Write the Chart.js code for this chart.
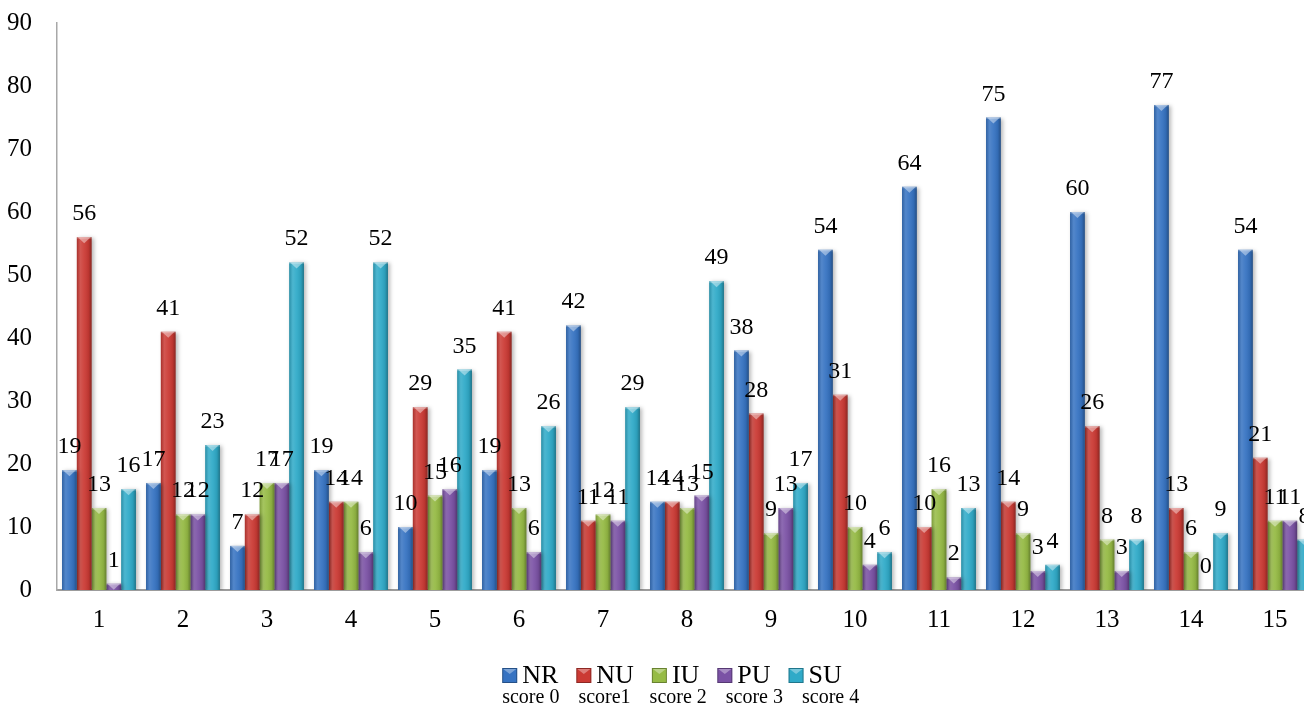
<!DOCTYPE html>
<html>
<head>
<meta charset="utf-8">
<script src="https://cdn.jsdelivr.net/npm/chart.js@4/dist/chart.umd.min.js"></script>
<style>
  html, body { margin: 0; padding: 0; background: #ffffff; overflow: hidden; }
  #wrap { width: 1320px; height: 707px; position: relative; }
</style>
</head>
<body>
<div id="wrap"><canvas id="chart"></canvas></div>
<script>
// Item numbers along the x axis
const categories = ['1','2','3','4','5','6','7','8','9','10','11','12','13','14','15'];

// Counts per response type
const nrValues = [19, 17, 7, 19, 10, 19, 42, 14, 38, 54, 64, 75, 60, 77, 54];
const nuValues = [56, 41, 12, 14, 29, 41, 11, 14, 28, 31, 10, 14, 26, 13, 21];
const iuValues = [13, 12, 17, 14, 15, 13, 12, 13, 9, 10, 16, 9, 8, 6, 11];
const puValues = [1, 12, 17, 6, 16, 6, 11, 15, 13, 4, 2, 3, 3, 0, 11];
const suValues = [16, 23, 52, 52, 35, 26, 29, 49, 17, 6, 13, 4, 8, 9, 8];

// Legend text: short code and score line
const seriesCodes = ['NR', 'NU', 'IU', 'PU', 'SU'];
const scoreLabels = ['score 0', 'score1', 'score 2', 'score 3', 'score 4'];

const seriesColors = ['#3673c2', '#cb3a34', '#96bb45', '#7b52a5', '#2faac8'];
const seriesValues = [nrValues, nuValues, iuValues, puValues, suValues];

const SERIF = "'Liberation Serif', 'DejaVu Serif', serif";

// Soft drop shadow under the bars
const barShadow = {
  id: 'barShadow',
  beforeDatasetsDraw(chart) {
    const ctx = chart.ctx;
    ctx.save();
    ctx.shadowColor = 'rgba(0,0,0,0.28)';
    ctx.shadowBlur = 4;
    ctx.shadowOffsetX = 2;
    ctx.shadowOffsetY = 1;
  },
  afterDatasetsDraw(chart) {
    chart.ctx.restore();
  }
};

// Bevel shading and the pointed top highlight on every bar
const barBevel = {
  id: 'barBevel',
  afterDatasetsDraw(chart) {
    const ctx = chart.ctx;
    chart.data.datasets.forEach((ds, di) => {
      const meta = chart.getDatasetMeta(di);
      meta.data.forEach(bar => {
        const l = bar.x - bar.width / 2;
        const r = bar.x + bar.width / 2;
        const top = Math.min(bar.y, bar.base);
        const h = Math.abs(bar.base - bar.y);
        if (h < 0.5) return;
        ctx.save();
        const g = ctx.createLinearGradient(l, 0, r, 0);
        g.addColorStop(0, 'rgba(0,0,0,0.18)');
        g.addColorStop(0.25, 'rgba(255,255,255,0.14)');
        g.addColorStop(0.5, 'rgba(255,255,255,0.06)');
        g.addColorStop(0.8, 'rgba(0,0,0,0.08)');
        g.addColorStop(1, 'rgba(0,0,0,0.32)');
        ctx.fillStyle = g;
        ctx.fillRect(l, top, r - l, h);
        // lighter cap and downward triangle
        const tri = Math.min(6, h);
        ctx.fillStyle = 'rgba(255,255,255,0.22)';
        ctx.fillRect(l, top, r - l, Math.min(1.5, h));
        ctx.beginPath();
        ctx.moveTo(l + 1, top);
        ctx.lineTo(r - 1, top);
        ctx.lineTo(bar.x, top + tri);
        ctx.closePath();
        ctx.fillStyle = 'rgba(255,255,255,0.42)';
        ctx.fill();
        ctx.restore();
      });
    });
  }
};

// Value labels above each bar
const valueLabels = {
  id: 'valueLabels',
  afterDraw(chart) {
    const ctx = chart.ctx;
    ctx.save();
    ctx.font = '24px ' + SERIF;
    ctx.fillStyle = '#000000';
    ctx.textAlign = 'center';
    ctx.textBaseline = 'alphabetic';
    chart.data.datasets.forEach((ds, di) => {
      const meta = chart.getDatasetMeta(di);
      meta.data.forEach((bar, i) => {
        ctx.fillText(String(ds.data[i]), bar.x, bar.y - 17);
      });
    });
    ctx.restore();
  }
};

// Two-line legend: coloured box with code, score text underneath
const scoreLegend = {
  id: 'scoreLegend',
  afterDraw(chart) {
    const ctx = chart.ctx;
    const box = 15, boxGap = 5, itemGap = 18, lineGap = 19;
    ctx.save();
    ctx.font = '26px ' + SERIF;
    const topWidths = seriesCodes.map(t => box + boxGap + ctx.measureText(t).width);
    const topTotal = topWidths.reduce((a, b) => a + b, 0) + itemGap * (seriesCodes.length - 1);
    const startX = 672 - topTotal / 2;
    const topBase = 683;
    let x = startX;
    seriesCodes.forEach((code, i) => {
      const by = topBase - box;
      ctx.fillStyle = seriesColors[i];
      ctx.fillRect(x, by, box, box);
      ctx.fillStyle = 'rgba(255,255,255,0.35)';
      ctx.beginPath();
      ctx.moveTo(x + 1, by + 1);
      ctx.lineTo(x + box - 1, by + 1);
      ctx.lineTo(x + box / 2, by + 6);
      ctx.closePath();
      ctx.fill();
      ctx.strokeStyle = 'rgba(0,0,0,0.3)';
      ctx.lineWidth = 1;
      ctx.strokeRect(x + 0.5, by + 0.5, box - 1, box - 1);
      ctx.fillStyle = '#000000';
      ctx.textAlign = 'left';
      ctx.textBaseline = 'alphabetic';
      ctx.fillText(code, x + box + boxGap, topBase);
      x += topWidths[i] + itemGap;
    });
    ctx.font = '20px ' + SERIF;
    x = startX;
    scoreLabels.forEach(s => {
      ctx.fillText(s, x, 703);
      x += ctx.measureText(s).width + lineGap;
    });
    ctx.restore();
  }
};

const datasets = seriesCodes.map((code, i) => ({
  label: code,
  data: seriesValues[i],
  backgroundColor: seriesColors[i],
  borderWidth: 0,
  categoryPercentage: 0.88,
  barPercentage: 1.0
}));

new Chart(document.getElementById('chart'), {
  type: 'bar',
  data: { labels: categories, datasets: datasets },
  options: {
    responsive: true,
    maintainAspectRatio: false,
    animation: false,
    layout: { padding: { top: 23, right: 3, bottom: 0, left: 0 } },
    plugins: {
      legend: { display: false },
      tooltip: { enabled: false }
    },
    scales: {
      x: {
        grid: { display: false, drawTicks: false },
        border: { display: true, color: '#9c9c9c', width: 2 },
        ticks: {
          color: '#000000',
          font: { family: SERIF, size: 25 },
          padding: 15
        },
        afterFit(scale) { scale.height = 117; }
      },
      y: {
        min: 0,
        max: 90,
        grid: { display: false, drawTicks: false },
        border: { display: true, color: '#a8a8a8', width: 1.5 },
        ticks: {
          stepSize: 10,
          color: '#000000',
          font: { family: SERIF, size: 25 },
          padding: 25
        },
        afterFit(scale) {
          scale.width = 57;
          // only the label half-height is needed above the top tick
          scale.paddingTop = 12;
          scale.paddingBottom = 12;
        }
      }
    }
  },
  plugins: [barShadow, barBevel, valueLabels, scoreLegend]
});
</script>
</body>
</html>
